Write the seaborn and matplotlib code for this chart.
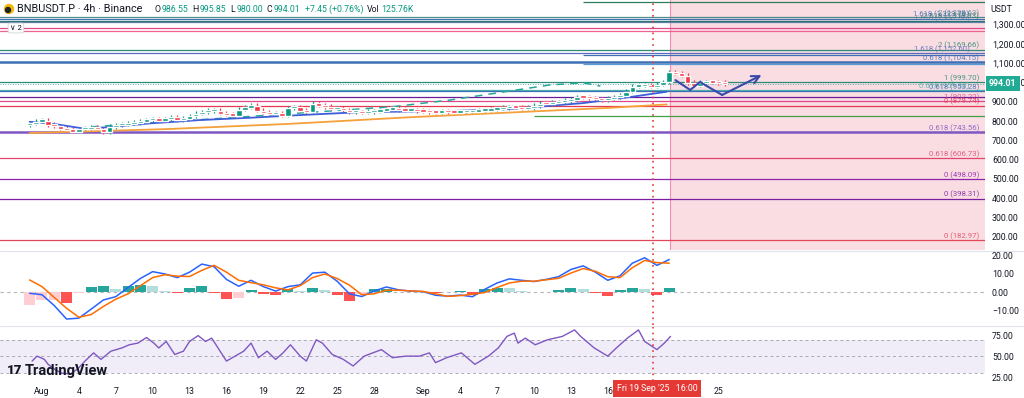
import numpy as np
import pandas as pd
import matplotlib
matplotlib.use('Agg')
import matplotlib.pyplot as plt
import matplotlib.transforms as mtransforms
from matplotlib.lines import Line2D
from matplotlib.patches import Ellipse
import seaborn as sns

sns.set_style('white')
plt.rcParams['font.family'] = ['Roboto', 'DejaVu Sans']

# ---- data (x = days since 1 Aug 2025) ----
# 12h closes from 31 Jul 00:00
first_open = 782
closes = [788, 800, 805, 782, 775, 764, 756, 748, 760, 762,
          766, 760, 745, 772, 780, 783, 788, 792, 800, 806,
          810, 805, 812, 822, 806, 815, 828, 840, 848, 855,
          857, 840, 835, 831, 862, 872, 880, 857, 845, 840,
          840, 831, 868, 874, 857, 848, 892, 883, 875, 866,
          866, 858, 848, 848, 845, 850, 852, 857, 862, 866,
          860, 857, 857, 855, 852, 848, 846, 850, 848, 846,
          848, 848, 852, 857, 857, 862, 866, 870, 874, 872,
          866, 870, 880, 892, 890, 896, 900, 906, 912, 926,
          924, 921, 915, 912, 918, 926, 935, 955, 981, 985,
          987, 980, 990, 1004, 1055, 1047, 1038, 1000, 987, 1000,
          1004, 1002, 1000, 994]

ma_fast_days = [-1.0, 1.0, 3.3, 5.5, 8.8, 12.8, 16.9, 21.0, 25.9, 33.2, 38.0, 44.0, 48.0, 50.8]
ma_fast = [796, 785, 762, 768, 788, 805, 817, 831, 846, 852, 862, 893, 926, 952]
ma_slow_days = [-1.0, 10.0, 20.0, 30.0, 40.0, 46.0, 50.8]
ma_slow = [738, 758, 785, 820, 850, 868, 886]
ghost_days = [4.0, 16.0, 28.5, 33.2, 38.6, 41.3, 44.0, 45.4]
ghost_prices = [770, 820, 874, 909, 961, 987, 998, 981]

# projected path drawn on the chart
path_days = [51.5, 52.7, 53.5, 55.3, 58.5]
path_prices = [1012, 961, 1002, 935, 1038]

level_prices = [1416.0, 1338.63, 1329.79, 1318.93, 1312.58, 1282.0, 1266.0,
                1169.66, 1152.60, 1140.0, 1104.15, 1097.0, 999.70, 959.30,
                953.28, 926.0, 902.22, 879.74, 826.0, 743.56, 606.73,
                498.09, 398.31, 182.97]
level_text = ['', '2 (1,338.63)', '1.618 (1,329.79)', '2.618 (1,318.93)',
              '1.618 (1,312.58)', '', '', '2 (1,169.66)', '1.618 (1,152.60)',
              '', '0.618 (1,104.15)', '', '1 (999.70)', '0.618 (959.30)',
              '0.618 (953.28)', '', '1 (902.22)', '0 (879.74)', '',
              '0.618 (743.56)', '0.618 (606.73)', '0 (498.09)', '0 (398.31)',
              '0 (182.97)']
level_colors = ['#2e7d5b', '#4f8a8b', '#3f6fb5', '#26736a', '#5b7fa6', '#e0468a',
                '#f06292', '#2e8b74', '#5c6bc0', '#3f6fb5', '#3d6fb5', '#5b9bd5',
                '#2e8b74', '#4db6ac', '#3f6fb5', '#6a1b9a', '#e0468a', '#e53950',
                '#43a047', '#7e57c2', '#e0466a', '#8e24aa', '#7b1fa2', '#e0465a']
level_start = [44, -4, -4, -4, -4, -4, -4, -4, -4, 44, -4, 44, -4, -4,
               -4, -4, -4, -4, 40, -4, -4, -4, -4, -4]
# right edge of each label (days), slightly staggered like the reference
label_end = [76.2, 76.2, 75.4, 76.2, 75.4, 76.2, 76.2, 76.2, 75.4, 76.2, 76.2, 76.2,
             76.2, 75.4, 76.2, 76.2, 76.2, 76.2, 76.2, 76.2, 76.2, 76.2, 76.2, 76.2]

macd_days = list(range(-1, 52))
macd = [-0.7, -1.5, -7.5, -15.0, -14.5, -9.5, -4.4, -2.6, 2.5, 7.5, 11.3, 10.0, 8.0,
        11.0, 15.5, 14.0, 7.0, 3.2, 6.5, 3.0, 0.5, 3.0, 4.0, 10.5, 11.0, 6.0, -1.0,
        -2.5, 0.5, 2.8, 1.2, 0.5, 0.2, -1.8, -2.3, -1.7, -2.6, 1.5, 5.0, 7.3, 6.5,
        5.8, 7.0, 8.5, 12.5, 14.5, 11.0, 6.5, 9.0, 16.0, 19.0, 14.8, 18.0]
signal = [6.7, 3.0, -3.0, -9.0, -14.0, -12.5, -8.0, -4.0, -1.0, 3.5, 8.0, 9.6, 8.8,
          8.6, 12.0, 14.8, 11.0, 6.5, 5.2, 4.0, 2.3, 1.2, 3.5, 8.0, 10.0, 7.5, 3.8,
          -1.5, -1.0, 1.0, 1.0, 0.6, 0.3, -1.0, -2.4, -2.0, -1.2, -0.3, 2.5, 5.0,
          6.0, 6.0, 6.8, 7.6, 10.5, 13.0, 11.5, 8.5, 8.0, 13.5, 17.5, 16.3, 16.0]

rsi_days = [-0.8, -0.4, 0.2, 0.5, 1.1, 1.6, 2.3, 2.9, 3.5, 4.2, 4.8, 5.6, 6.5, 7.1,
            7.8, 8.5, 9.1, 9.5, 10.1, 10.8, 11.5, 12.0, 12.7, 13.3, 13.8, 15.0, 15.7,
            16.4, 17.0, 17.6, 18.3, 19.0, 19.6, 20.2, 21.0, 21.5, 22.3, 22.8, 23.6,
            24.5, 25.3, 26.2, 26.9, 27.6, 28.5, 29.6, 30.7, 31.5, 32.0, 32.9, 34.1,
            35.2, 36.3, 37.1, 37.8, 38.4, 38.7, 39.3, 40.1, 41.1, 42.3, 43.3, 43.8,
            44.9, 46.0, 46.7, 47.6, 48.5, 49.0, 50.0, 50.6, 51.1]
rsi = [44.5, 50.4, 46.5, 40.6, 34.0, 30.0, 29.0, 35.0, 44.5, 54.3, 46.5, 56.3, 60.2,
       64.0, 66.0, 72.7, 66.0, 60.2, 68.0, 52.4, 56.3, 68.0, 75.0, 68.0, 72.0, 44.5,
       50.4, 56.3, 66.0, 48.5, 56.3, 46.5, 54.3, 64.0, 50.4, 44.5, 70.0, 66.0, 52.4,
       46.5, 38.6, 50.4, 54.3, 58.2, 48.5, 50.4, 50.4, 54.3, 42.6, 48.5, 54.3, 40.6,
       50.4, 60.2, 74.0, 78.0, 66.0, 72.0, 64.0, 70.0, 74.0, 81.8, 74.0, 60.2, 50.4,
       60.2, 72.0, 81.8, 68.0, 58.2, 66.0, 74.0]

tick_days = [0, 3, 6, 9, 12, 15, 18, 21, 24, 27, 31, 34, 37, 40, 43, 46, 55]
tick_labels = ['Aug', '4', '7', '10', '13', '16', '19', '22', '25', '28',
               'Sep', '4', '7', '10', '13', '16', '25']
cursor_day = 49.67          # Fri 19 Sep '25 16:00
zone_start = 51.06
last_price = 994.01

UP, DOWN = '#089981', '#f23645'
TXT = '#131722'
XLIM = (-3.41, 76.67)

fig = plt.figure(figsize=(10.24, 3.98), dpi=100)
W, H = 1024, 398
ax = fig.add_axes([0, 1 - 250 / H, 985 / W, 250 / H])
ax_macd = fig.add_axes([0, 1 - 325 / H, 985 / W, 73 / H])
ax_rsi = fig.add_axes([0, 1 - 381 / H, 985 / W, 54 / H])

# ---- main pane ----
ax.axvspan(zone_start, XLIM[1], color='#f9dde2', zorder=0, lw=0)
ax.axvline(zone_start, color='#f48fb1', lw=0.8, zorder=1)

for p, txt, c, s, e in zip(level_prices, level_text, level_colors, level_start, label_end):
    lw = 1.8 if p in (1104.15, 743.56) else 0.9
    ax.hlines(p, s, XLIM[1], color=c, lw=lw, zorder=2)
    if txt:
        ax.text(e, p + 2, txt, ha='right', va='bottom', fontsize=5.6,
                color=c, alpha=0.85, zorder=3)

ax.axhline(last_price, color='#26a69a', lw=0.6, ls=(0, (1, 2)), zorder=2)

dates = pd.date_range('2025-07-31', periods=len(closes), freq='12h')
cdays = (dates - pd.Timestamp('2025-08-01')) / pd.Timedelta(days=1)
opens = [first_open] + closes[:-1]
df = pd.DataFrame({'day': cdays, 'open': opens, 'close': closes})
df['lo'] = df[['open', 'close']].min(axis=1)
df['hi'] = df[['open', 'close']].max(axis=1)
cols = np.where(df['close'] >= df['open'], UP, DOWN)
ax.vlines(df['day'], df['lo'] - 11, df['hi'] + 11, colors=cols, lw=0.9, zorder=4)
ax.bar(df['day'], np.maximum(df['hi'] - df['lo'], 12), bottom=df['lo'] - 3,
       width=0.45, color=cols, zorder=5)

sns.lineplot(x=ma_fast_days, y=ma_fast, ax=ax, color='#3d5ed8', lw=1.3, zorder=4)
sns.lineplot(x=ma_slow_days, y=ma_slow, ax=ax, color='#f5a03a', lw=1.3, zorder=4)
sns.lineplot(x=ghost_days, y=ghost_prices, ax=ax, color='#26a69a', lw=1.1,
             linestyle=(0, (5, 4)), zorder=3)
sns.lineplot(x=path_days[:-1], y=path_prices[:-1], ax=ax, color='#3949ab', lw=1.5,
             zorder=6, sort=False)
ax.annotate('', xy=(path_days[-1], path_prices[-1]),
            xytext=(path_days[-2], path_prices[-2]),
            arrowprops=dict(arrowstyle='->', color='#3949ab', lw=1.5,
                            mutation_scale=14, shrinkA=0, shrinkB=0), zorder=6)

ax.axvline(cursor_day, color='#e53935', lw=1.2, ls=(0, (1, 2.5)), zorder=7)
ax.set_xlim(*XLIM)
ax.set_ylim(132, 1427)
ax.yaxis.tick_right()
ax.set_yticks(range(200, 1400, 100))
ax.set_yticklabels([f'{v:,.2f}' for v in range(200, 1400, 100)])
ax.set_xticks([])

# ---- MACD pane ----
hist = np.array(macd) - np.array(signal)
hcol = []
for i, h in enumerate(hist):
    prev = hist[i - 1] if i else h
    if h >= 0:
        hcol.append('#26a69a' if h >= prev else '#b2dfdb')
    else:
        hcol.append('#ffcdd2' if h >= prev else '#ff5252')
ax_macd.bar(macd_days, hist, width=0.9, color=hcol, lw=0, zorder=2)
ax_macd.axhline(0, color='#b2b5be', lw=0.8, ls=(0, (3, 3)), zorder=1)
sns.lineplot(x=macd_days, y=macd, ax=ax_macd, color='#2962ff', lw=1.1, zorder=3)
sns.lineplot(x=macd_days, y=signal, ax=ax_macd, color='#ff6d00', lw=1.1, zorder=3)
ax_macd.axvline(cursor_day, color='#e53935', lw=1.2, ls=(0, (1, 2.5)), zorder=4)
ax_macd.set_xlim(*XLIM)
ax_macd.set_ylim(-18.3, 22.2)
ax_macd.yaxis.tick_right()
ax_macd.set_yticks([20, 10, 0, -10])
ax_macd.set_yticklabels(['20.00', '10.00', '0.00', '\u221210.00'])
ax_macd.set_xticks([])

# ---- RSI pane ----
ax_rsi.axhspan(30, 70, color='#7e57c2', alpha=0.1, lw=0, zorder=0)
for lvl in (70, 50, 30):
    ax_rsi.axhline(lvl, color='#9598a1', lw=0.7, ls=(0, (3, 3)), alpha=0.8, zorder=1)
sns.lineplot(x=rsi_days, y=rsi, ax=ax_rsi, color='#7e57c2', lw=1.0, zorder=3)
ax_rsi.axvline(cursor_day, color='#e53935', lw=1.2, ls=(0, (1, 2.5)), zorder=4)
ax_rsi.set_xlim(*XLIM)
ax_rsi.set_ylim(20.6, 85.3)
ax_rsi.yaxis.tick_right()
ax_rsi.set_yticks([75, 50, 25])
ax_rsi.set_yticklabels(['75.00', '50.00', '25.00'])
ax_rsi.set_xticks(tick_days)
ax_rsi.set_xticklabels(tick_labels)
ax_rsi.tick_params(axis='x', length=0, pad=4, labelsize=6.3, labelcolor=TXT)

for a in (ax, ax_macd, ax_rsi):
    a.set_xlabel('')
    a.set_ylabel('')
    for sp in a.spines.values():
        sp.set_visible(False)
    a.tick_params(axis='y', length=0, pad=5, labelsize=6.3, labelcolor=TXT)
    a.set_facecolor('white')

for yy in (251, 326):
    fig.add_artist(Line2D([0, 1], [1 - yy / H] * 2, color='#e0e3eb', lw=0.8))

# ---- price tag and texts ----
trans = mtransforms.blended_transform_factory(ax.transAxes, ax.transData)
ax.text(1.004, last_price, '994.01', transform=trans, ha='left', va='center',
        fontsize=6.3, color='white', fontweight='bold', clip_on=False, zorder=10,
        bbox=dict(boxstyle='square,pad=0.35', fc='#22ab94', ec='none'))
fig.text(990 / W, 1 - 10 / H, 'USDT', fontsize=6.3, color=TXT, va='center')

fig.text(657 / W, 1 - 388.5 / H, "Fri 19 Sep '25   16:00", ha='center',
         va='center', fontsize=6.3, color='white',
         bbox=dict(boxstyle='square,pad=0.45', fc='#e53935', ec='none'))

fig.add_artist(Ellipse((9 / W, 1 - 9 / H), 9 / W, 9 / H, color='#f0b90b'))
fig.add_artist(Ellipse((8 / W, 1 - 10 / H), 5 / W, 5 / H, color='#1e2329'))

r = fig.canvas.get_renderer()
x = 17 / W
gap = 4 / W
pieces = [('BNBUSDT.P \u00b7 4h \u00b7 Binance', TXT, 7.8, 3),
          ('O', TXT, 6.3, 0.3), ('986.55', UP, 6.3, 1), ('H', TXT, 6.3, 0.3),
          ('995.85', UP, 6.3, 1), ('L', TXT, 6.3, 0.3), ('980.00', UP, 6.3, 1),
          ('C', TXT, 6.3, 0.3), ('994.01', UP, 6.3, 1), ('+7.45 (+0.76%)', UP, 6.3, 1),
          ('Vol', TXT, 6.3, 0.3), ('125.76K', UP, 6.3, 0)]
for txt, col, size, sp in pieces:
    t = fig.text(x, 1 - 9 / H, txt, color=col, fontsize=size, va='center')
    x += t.get_window_extent(renderer=r).width / fig.bbox.width + sp * gap

fig.text(10 / W, 1 - 28 / H, '\u2228 2', fontsize=5.5, color=TXT, va='center',
         bbox=dict(boxstyle='round,pad=0.25', fc='white', ec='#d1d4dc', lw=0.6))

fig.text(7 / W, 1 - 371 / H, '17', fontsize=9.5, fontweight='heavy', color=TXT,
         va='center')
fig.text(25 / W, 1 - 371 / H, 'TradingView', fontsize=10.5, fontweight='bold',
         color=TXT, va='center')

fig.savefig('out.png', dpi=100, facecolor='white')
